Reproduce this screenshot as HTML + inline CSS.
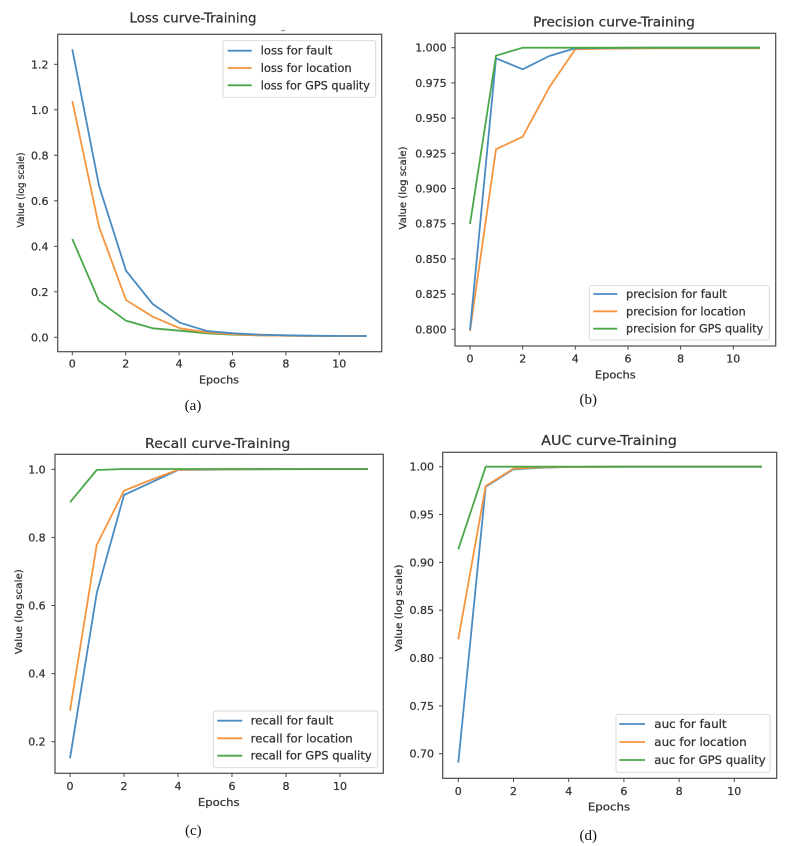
<!DOCTYPE html>
<html><head><meta charset="utf-8"><style>
html,body{margin:0;padding:0;background:#fff;}
svg{display:block;}
text{font-family:"DejaVu Sans","Liberation Sans",sans-serif;fill:#333;stroke:#333;stroke-width:0.25;}
.t{font-size:13.5px;}
.tk{font-size:11px;}
.lg{font-size:11.5px;}
.ax{font-size:10.5px;}
.yl{font-size:9.5px;}
.cap{font-family:"Liberation Serif","DejaVu Serif",serif;font-size:15px;fill:#111;stroke:none;}
.sp{fill:none;stroke:#4a4a4a;stroke-width:1.2;}
.tm{stroke:#4a4a4a;stroke-width:1;}
.b{fill:none;stroke:#4a8bc2;stroke-width:1.8;stroke-linejoin:round;}
.o{fill:none;stroke:#f5953f;stroke-width:1.8;stroke-linejoin:round;}
.g{fill:none;stroke:#4aa84a;stroke-width:1.8;stroke-linejoin:round;}
.lb{fill:#fff;stroke:#d6d6d6;stroke-width:0.9;}
</style></head><body>
<svg width="793" height="846" viewBox="0 0 793 846" xmlns="http://www.w3.org/2000/svg">
<!-- ================= Panel A ================= -->
<text class="t" x="193" y="22.7" text-anchor="middle" textLength="127" lengthAdjust="spacingAndGlyphs">Loss curve-Training</text>
<line x1="281" y1="30.7" x2="285" y2="30.7" stroke="#666" stroke-width="0.8"/>
<rect class="sp" x="57.7" y="34.3" width="324" height="317.4"/>
<g class="tm">
<line x1="54" y1="337.3" x2="57.7" y2="337.3"/><line x1="54" y1="291.8" x2="57.7" y2="291.8"/><line x1="54" y1="246.3" x2="57.7" y2="246.3"/><line x1="54" y1="200.8" x2="57.7" y2="200.8"/><line x1="54" y1="155.3" x2="57.7" y2="155.3"/><line x1="54" y1="109.8" x2="57.7" y2="109.8"/><line x1="54" y1="64.3" x2="57.7" y2="64.3"/>
<line x1="72.3" y1="351.7" x2="72.3" y2="355.3"/><line x1="125.7" y1="351.7" x2="125.7" y2="355.3"/><line x1="179.1" y1="351.7" x2="179.1" y2="355.3"/><line x1="232.5" y1="351.7" x2="232.5" y2="355.3"/><line x1="285.9" y1="351.7" x2="285.9" y2="355.3"/><line x1="339.3" y1="351.7" x2="339.3" y2="355.3"/>
</g>
<g class="tk" text-anchor="end">
<text x="48.5" y="341.3">0.0</text><text x="48.5" y="295.8">0.2</text><text x="48.5" y="250.3">0.4</text><text x="48.5" y="204.8">0.6</text><text x="48.5" y="159.3">0.8</text><text x="48.5" y="113.8">1.0</text><text x="48.5" y="68.3">1.2</text>
</g>
<g class="tk" text-anchor="middle">
<text x="72.3" y="367.5">0</text><text x="125.7" y="367.5">2</text><text x="179.1" y="367.5">4</text><text x="232.5" y="367.5">6</text><text x="285.9" y="367.5">8</text><text x="339.3" y="367.5">10</text>
</g>
<text class="ax" x="219" y="383.5" text-anchor="middle" textLength="40" lengthAdjust="spacingAndGlyphs">Epochs</text>
<text class="yl" transform="translate(24,190) rotate(-90)" text-anchor="middle" textLength="75" lengthAdjust="spacingAndGlyphs">Value (log scale)</text>
<text class="cap" x="193" y="410" text-anchor="middle">(a)</text>
<polyline class="g" points="72.3,239 99,301 126,320.7 152.7,328.3 180,330.7 206.7,333.3 233.3,334.7 260,335.3 286.7,335.7 313.3,336 340,336 366.7,336"/>
<polyline class="o" points="72.3,101 99,226.7 126,300 152.7,316.7 180,328.3 206.7,332.3 233.3,334.3 260,335.3 286.7,335.7 313.3,336 340,336 366.7,336"/>
<polyline class="b" points="72.3,49.3 99,185.7 126,270.7 152.7,304 180,322.7 206.7,331 233.3,333.3 260,334.7 286.7,335.3 313.3,335.7 340,336 366.7,336"/>
<rect class="lb" x="223" y="40.7" width="152.7" height="56.6" rx="2"/>
<line class="b" x1="227.7" y1="50.7" x2="251.7" y2="50.7"/>
<line class="o" x1="227.7" y1="68" x2="251.7" y2="68"/>
<line class="g" x1="227.7" y1="85.3" x2="251.7" y2="85.3"/>
<text class="lg" x="260.7" y="54.7" textLength="71.7" lengthAdjust="spacingAndGlyphs">loss for fault</text>
<text class="lg" x="260.7" y="72" textLength="91" lengthAdjust="spacingAndGlyphs">loss for location</text>
<text class="lg" x="260.7" y="89.3" textLength="109.3" lengthAdjust="spacingAndGlyphs">loss for GPS quality</text>

<!-- ================= Panel B ================= -->
<text class="t" x="614" y="26.5" text-anchor="middle" textLength="161.7" lengthAdjust="spacingAndGlyphs">Precision curve-Training</text>
<rect class="sp" x="455" y="33.3" width="320.7" height="312.7"/>
<g class="tm">
<line x1="451.3" y1="47.7" x2="455" y2="47.7"/><line x1="451.3" y1="82.9" x2="455" y2="82.9"/><line x1="451.3" y1="118.1" x2="455" y2="118.1"/><line x1="451.3" y1="153.3" x2="455" y2="153.3"/><line x1="451.3" y1="188.5" x2="455" y2="188.5"/><line x1="451.3" y1="223.7" x2="455" y2="223.7"/><line x1="451.3" y1="258.9" x2="455" y2="258.9"/><line x1="451.3" y1="294.1" x2="455" y2="294.1"/><line x1="451.3" y1="329.3" x2="455" y2="329.3"/>
<line x1="470" y1="346" x2="470" y2="349.7"/><line x1="522.7" y1="346" x2="522.7" y2="349.7"/><line x1="575.3" y1="346" x2="575.3" y2="349.7"/><line x1="628" y1="346" x2="628" y2="349.7"/><line x1="680.6" y1="346" x2="680.6" y2="349.7"/><line x1="733.3" y1="346" x2="733.3" y2="349.7"/>
</g>
<g class="tk" text-anchor="end">
<text x="446.7" y="51.7">1.000</text><text x="446.7" y="86.9">0.975</text><text x="446.7" y="122.1">0.950</text><text x="446.7" y="157.3">0.925</text><text x="446.7" y="192.5">0.900</text><text x="446.7" y="227.7">0.875</text><text x="446.7" y="262.9">0.850</text><text x="446.7" y="298.1">0.825</text><text x="446.7" y="333.3">0.800</text>
</g>
<g class="tk" text-anchor="middle">
<text x="470" y="362.5">0</text><text x="522.7" y="362.5">2</text><text x="575.3" y="362.5">4</text><text x="628" y="362.5">6</text><text x="680.6" y="362.5">8</text><text x="733.3" y="362.5">10</text>
</g>
<text class="ax" x="615.3" y="378.3" text-anchor="middle" textLength="40.7" lengthAdjust="spacingAndGlyphs">Epochs</text>
<text class="yl" transform="translate(406,188) rotate(-90)" text-anchor="middle" textLength="83" lengthAdjust="spacingAndGlyphs">Value (log scale)</text>
<text class="cap" x="588.3" y="404" text-anchor="middle">(b)</text>
<polyline class="o" points="470,331 496,149.3 522.7,136.7 549.3,87.3 575.3,49.3 602,48.7 628,48.5 655,48.4 681,48.3 708,48.3 734,48.3 760,48.3"/>
<polyline class="b" points="470,330 496,58.3 522.7,69.3 549.3,56 575.3,48.3 602,48 628,47.8 655,47.7 681,47.7 708,47.7 734,47.7 760,47.7"/>
<polyline class="g" points="470,224 496,55.7 522.7,47.7 549.3,47.7 575.3,47.7 602,47.7 628,47.7 655,47.7 681,47.7 708,47.7 734,47.7 760,47.7"/>
<rect class="lb" x="589.3" y="285.7" width="180" height="54.3" rx="2"/>
<line class="b" x1="593.3" y1="294" x2="617.3" y2="294"/>
<line class="o" x1="593.3" y1="311.3" x2="617.3" y2="311.3"/>
<line class="g" x1="593.3" y1="328.7" x2="617.3" y2="328.7"/>
<text class="lg" x="626" y="298" textLength="100.7" lengthAdjust="spacingAndGlyphs">precision for fault</text>
<text class="lg" x="626" y="315.3" textLength="119.7" lengthAdjust="spacingAndGlyphs">precision for location</text>
<text class="lg" x="626" y="332.7" textLength="137.3" lengthAdjust="spacingAndGlyphs">precision for GPS quality</text>

<!-- ================= Panel C ================= -->
<text class="t" x="217.7" y="448" text-anchor="middle" textLength="145.3" lengthAdjust="spacingAndGlyphs">Recall curve-Training</text>
<rect class="sp" x="55" y="454.3" width="328.3" height="319"/>
<g class="tm">
<line x1="51.3" y1="469.3" x2="55" y2="469.3"/><line x1="51.3" y1="537.4" x2="55" y2="537.4"/><line x1="51.3" y1="605.5" x2="55" y2="605.5"/><line x1="51.3" y1="673.6" x2="55" y2="673.6"/><line x1="51.3" y1="741.7" x2="55" y2="741.7"/>
<line x1="70" y1="773.3" x2="70" y2="777"/><line x1="124" y1="773.3" x2="124" y2="777"/><line x1="178" y1="773.3" x2="178" y2="777"/><line x1="232" y1="773.3" x2="232" y2="777"/><line x1="286" y1="773.3" x2="286" y2="777"/><line x1="340" y1="773.3" x2="340" y2="777"/>
</g>
<g class="tk" text-anchor="end">
<text x="45.7" y="473.3">1.0</text><text x="45.7" y="541.4">0.8</text><text x="45.7" y="609.5">0.6</text><text x="45.7" y="677.6">0.4</text><text x="45.7" y="745.7">0.2</text>
</g>
<g class="tk" text-anchor="middle">
<text x="70" y="790">0</text><text x="124" y="790">2</text><text x="178" y="790">4</text><text x="232" y="790">6</text><text x="286" y="790">8</text><text x="340" y="790">10</text>
</g>
<text class="ax" x="218.7" y="806" text-anchor="middle" textLength="41.7" lengthAdjust="spacingAndGlyphs">Epochs</text>
<text class="yl" transform="translate(21.8,611.7) rotate(-90)" text-anchor="middle" textLength="85" lengthAdjust="spacingAndGlyphs">Value (log scale)</text>
<text class="cap" x="193.3" y="835" text-anchor="middle">(c)</text>
<polyline class="b" points="70,758.3 96.7,593.3 124,495 150.7,482.7 178,470 204.7,469.7 232,469.5 259,469.3 286,469.2 313,469.1 340,469 368,469"/>
<polyline class="o" points="70,710.7 96.7,545 124,490.7 150.7,480 178,469.7 204.7,469.4 232,469.3 259,469.2 286,469.1 313,469 340,469 368,469"/>
<polyline class="g" points="70,502.3 96.7,470 124,469 150.7,469 178,469 204.7,469 232,469 259,469 286,469 313,469 340,469 368,469"/>
<rect class="lb" x="213.3" y="711" width="164.4" height="56.7" rx="2"/>
<line class="b" x1="217.3" y1="720.7" x2="242.3" y2="720.7"/>
<line class="o" x1="217.3" y1="738.3" x2="242.3" y2="738.3"/>
<line class="g" x1="217.3" y1="755.7" x2="242.3" y2="755.7"/>
<text class="lg" x="250.7" y="724.7" textLength="82.7" lengthAdjust="spacingAndGlyphs">recall for fault</text>
<text class="lg" x="250.7" y="742.3" textLength="102" lengthAdjust="spacingAndGlyphs">recall for location</text>
<text class="lg" x="250.7" y="759.7" textLength="121" lengthAdjust="spacingAndGlyphs">recall for GPS quality</text>

<!-- ================= Panel D ================= -->
<text class="t" x="609" y="445" text-anchor="middle" textLength="135.7" lengthAdjust="spacingAndGlyphs">AUC curve-Training</text>
<rect class="sp" x="442.7" y="452.3" width="334" height="326"/>
<g class="tm">
<line x1="439" y1="466.7" x2="442.7" y2="466.7"/><line x1="439" y1="514.5" x2="442.7" y2="514.5"/><line x1="439" y1="562.4" x2="442.7" y2="562.4"/><line x1="439" y1="610.2" x2="442.7" y2="610.2"/><line x1="439" y1="658" x2="442.7" y2="658"/><line x1="439" y1="705.9" x2="442.7" y2="705.9"/><line x1="439" y1="753.7" x2="442.7" y2="753.7"/>
<line x1="458.3" y1="778.3" x2="458.3" y2="782"/><line x1="513.5" y1="778.3" x2="513.5" y2="782"/><line x1="568.7" y1="778.3" x2="568.7" y2="782"/><line x1="623.9" y1="778.3" x2="623.9" y2="782"/><line x1="679.1" y1="778.3" x2="679.1" y2="782"/><line x1="734.3" y1="778.3" x2="734.3" y2="782"/>
</g>
<g class="tk" text-anchor="end">
<text x="434" y="470.7">1.00</text><text x="434" y="518.5">0.95</text><text x="434" y="566.4">0.90</text><text x="434" y="614.2">0.85</text><text x="434" y="662">0.80</text><text x="434" y="709.9">0.75</text><text x="434" y="757.7">0.70</text>
</g>
<g class="tk" text-anchor="middle">
<text x="458.3" y="795">0</text><text x="513.5" y="795">2</text><text x="568.7" y="795">4</text><text x="623.9" y="795">6</text><text x="679.1" y="795">8</text><text x="734.3" y="795">10</text>
</g>
<text class="ax" x="609" y="810.5" text-anchor="middle" textLength="42.3" lengthAdjust="spacingAndGlyphs">Epochs</text>
<text class="yl" transform="translate(401.8,608) rotate(-90)" text-anchor="middle" textLength="87" lengthAdjust="spacingAndGlyphs">Value (log scale)</text>
<text class="cap" x="588.3" y="840" text-anchor="middle">(d)</text>
<polyline class="b" points="458.3,762.7 485.7,486.7 513.3,469.3 540.7,467.7 568,467 596,466.8 623.9,466.7 651.5,466.7 679.1,466.7 706.7,466.7 734.3,466.7 762,466.7"/>
<polyline class="o" points="458.3,639.3 485.7,486 513.3,468.7 540.7,467.3 568,467 596,466.8 623.9,466.7 651.5,466.7 679.1,466.7 706.7,466.7 734.3,466.7 762,466.7"/>
<polyline class="g" points="458.3,549.3 485.7,466.7 513.3,466.7 540.7,466.7 568,466.7 596,466.7 623.9,466.7 651.5,466.7 679.1,466.7 706.7,466.7 734.3,466.7 762,466.7"/>
<rect class="lb" x="616" y="714.3" width="154" height="58" rx="2"/>
<line class="b" x1="619.3" y1="724" x2="645" y2="724"/>
<line class="o" x1="619.3" y1="742" x2="645" y2="742"/>
<line class="g" x1="619.3" y1="760" x2="645" y2="760"/>
<text class="lg" x="654.3" y="728" textLength="72.3" lengthAdjust="spacingAndGlyphs">auc for fault</text>
<text class="lg" x="654.3" y="746" textLength="92.3" lengthAdjust="spacingAndGlyphs">auc for location</text>
<text class="lg" x="654.3" y="764" textLength="111.3" lengthAdjust="spacingAndGlyphs">auc for GPS quality</text>
</svg>
</body></html>
